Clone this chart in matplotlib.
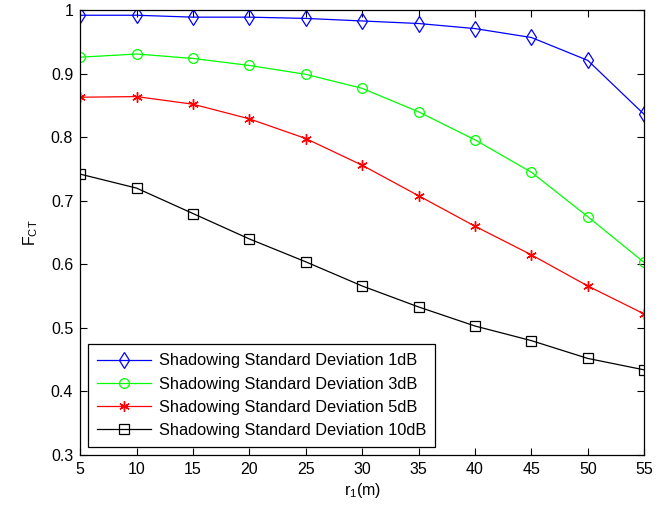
import matplotlib
matplotlib.use("Agg")
import matplotlib.pyplot as plt

plt.rcParams['font.family'] = ['Liberation Sans', 'DejaVu Sans']
plt.rcParams['mathtext.fontset'] = 'custom'
plt.rcParams['mathtext.rm'] = 'Liberation Sans'

r1 = [5, 10, 15, 20, 25, 30, 35, 40, 45, 50, 55]
sd1 = [0.992, 0.992, 0.989, 0.989, 0.987, 0.983, 0.979, 0.971, 0.957, 0.921, 0.836]
sd3 = [0.926, 0.931, 0.924, 0.913, 0.899, 0.877, 0.840, 0.796, 0.745, 0.675, 0.603]
sd5 = [0.863, 0.864, 0.852, 0.829, 0.798, 0.756, 0.708, 0.660, 0.615, 0.566, 0.522]
sd10 = [0.742, 0.720, 0.680, 0.640, 0.604, 0.566, 0.533, 0.503, 0.480, 0.452, 0.434]
labels = ['Shadowing Standard Deviation 1dB', 'Shadowing Standard Deviation 3dB',
          'Shadowing Standard Deviation 5dB', 'Shadowing Standard Deviation 10dB']
xticks = [5, 10, 15, 20, 25, 30, 35, 40, 45, 50, 55]
yticks = [0.3, 0.4, 0.5, 0.6, 0.7, 0.8, 0.9, 1.0]
ytick_labels = ['0.3', '0.4', '0.5', '0.6', '0.7', '0.8', '0.9', '1']

fig = plt.figure(figsize=(6.68, 5.08), dpi=100)
ax = fig.add_axes([0.12, 0.1043, 0.8443, 0.8757])

ax.plot(r1, sd1, color='#0000ff', lw=0.9, marker='d', markersize=8, mfc='none', mec='#0000ff', mew=0.9, label=labels[0])
ax.plot(r1, sd3, color='#00ff00', lw=0.9, marker='o', markersize=7, mfc='none', mec='#00ff00', mew=0.9, label=labels[1])
ax.plot(r1, sd5, color='#ff0000', lw=0.9, marker=(6, 2, 0), markersize=7.5, mec='#ff0000', mew=1.0, label=labels[2])
ax.plot(r1, sd10, color='#000000', lw=0.9, marker='s', markersize=7, mfc='none', mec='#000000', mew=0.9, label=labels[3])

ax.set_xlim(5, 55)
ax.set_ylim(0.3, 1.0)
ax.set_xticks(xticks)
ax.set_yticks(yticks)
ax.set_yticklabels(ytick_labels)
ax.tick_params(direction='in', top=True, right=True, labelsize=11.5, length=5, width=0.8, pad=5)
for s in ax.spines.values():
    s.set_linewidth(0.9)

ax.set_xlabel(r'r$_1$(m)', fontsize=11.5, labelpad=3)
ax.set_ylabel(r'F$_{\rm CT}$', fontsize=11.5, labelpad=8)

leg = ax.legend(loc='lower left', bbox_to_anchor=(0.014, 0.018), fontsize=11.8, frameon=True,
                fancybox=False, edgecolor='black', framealpha=1, borderpad=0.55,
                labelspacing=0.5, handlelength=3.3, handletextpad=0.45, borderaxespad=0)
leg.get_frame().set_linewidth(0.9)

fig.savefig('out.png', dpi=100)
